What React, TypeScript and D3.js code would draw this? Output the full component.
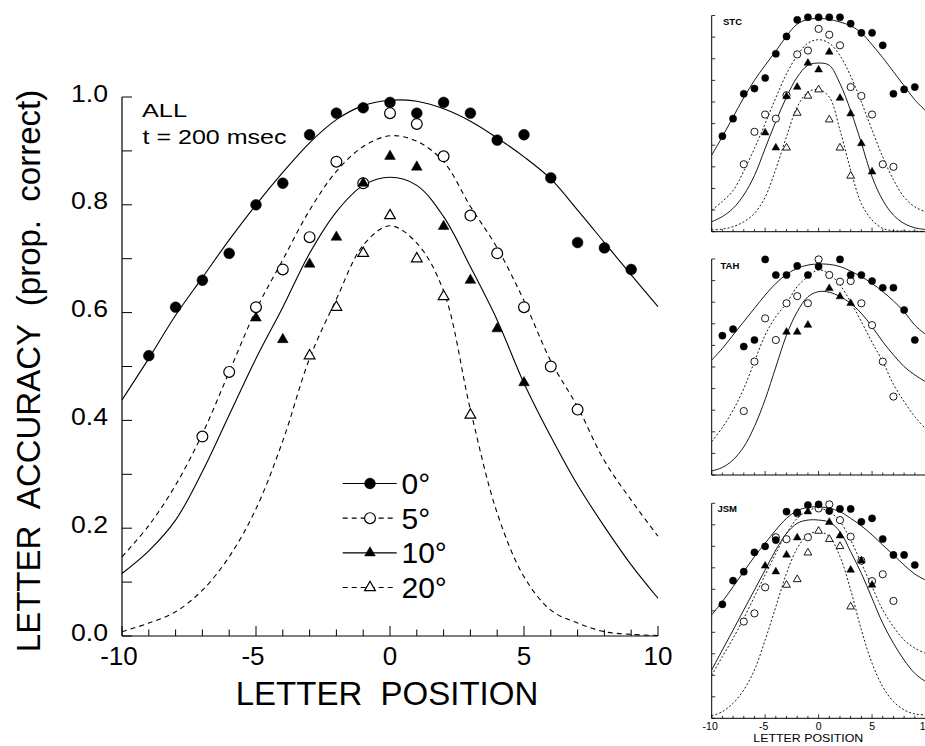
import React from 'react';
import * as d3 from 'd3';

const FONT = "'Liberation Sans', Arial, Helvetica, sans-serif";

const FIT_POS = [-10, -9, -8, -7, -6, -5, -4, -3, -2, -1, 0, 1, 2, 3, 4, 5, 6, 7, 8, 9, 10];

// ---------- ALL (main panel) ----------
const ALL_POS_0 = [-9, -8, -7, -6, -5, -4, -3, -2, -1, 0, 1, 2, 3, 4, 5, 6, 7, 8, 9];
const ALL_ACC_0 = [0.52, 0.61, 0.66, 0.71, 0.80, 0.84, 0.93, 0.97, 0.98, 0.99, 0.97, 0.99, 0.97, 0.92, 0.93, 0.85, 0.73, 0.72, 0.68];
const ALL_POS_5 = [-7, -6, -5, -4, -3, -2, -1, 0, 1, 2, 3, 4, 5, 6, 7];
const ALL_ACC_5 = [0.37, 0.49, 0.61, 0.68, 0.74, 0.88, 0.84, 0.97, 0.95, 0.89, 0.78, 0.71, 0.61, 0.50, 0.42];
const ALL_POS_10 = [-5, -4, -3, -2, -1, 0, 1, 2, 3, 4, 5];
const ALL_ACC_10 = [0.59, 0.55, 0.69, 0.74, 0.84, 0.89, 0.87, 0.76, 0.66, 0.57, 0.47];
const ALL_POS_20 = [-3, -2, -1, 0, 1, 2, 3];
const ALL_ACC_20 = [0.52, 0.61, 0.71, 0.78, 0.70, 0.63, 0.41];

const ALL_FIT_0 = [0.438, 0.515, 0.595, 0.665, 0.735, 0.80, 0.86, 0.915, 0.958, 0.984, 0.994, 0.992, 0.978, 0.955, 0.924, 0.889, 0.848, 0.79, 0.73, 0.67, 0.611];
const ALL_FIT_5 = [0.147, 0.205, 0.28, 0.375, 0.49, 0.605, 0.698, 0.79, 0.862, 0.908, 0.928, 0.918, 0.88, 0.797, 0.72, 0.622, 0.51, 0.425, 0.325, 0.252, 0.185];
const ALL_FIT_10 = [0.116, 0.158, 0.215, 0.305, 0.41, 0.515, 0.61, 0.71, 0.787, 0.836, 0.851, 0.836, 0.778, 0.685, 0.586, 0.469, 0.37, 0.28, 0.203, 0.132, 0.07];
const ALL_FIT_20 = [0.008, 0.024, 0.045, 0.085, 0.147, 0.236, 0.362, 0.515, 0.625, 0.725, 0.761, 0.729, 0.64, 0.42, 0.228, 0.11, 0.048, 0.024, 0.008, 0.003, 0.001];

// ---------- STC ----------
const STC_POS_0 = [-9, -8, -7, -6, -5, -4, -3, -2, -1, 0, 1, 2, 3, 4, 5, 6, 7, 8, 9];
const STC_ACC_0 = [0.442, 0.523, 0.638, 0.662, 0.711, 0.823, 0.903, 0.98, 0.992, 0.992, 0.992, 0.992, 0.962, 0.92, 0.92, 0.862, 0.638, 0.658, 0.669];
const STC_POS_5 = [-7, -6, -5, -4, -3, -2, -1, 0, 1, 2, 3, 4, 5, 6, 7];
const STC_ACC_5 = [0.312, 0.462, 0.542, 0.523, 0.631, 0.82, 0.838, 0.938, 0.911, 0.862, 0.669, 0.628, 0.542, 0.312, 0.30];
const STC_POS_10 = [-5, -4, -3, -2, -1, 0, 1, 2, 3, 4, 5];
const STC_ACC_10 = [0.458, 0.388, 0.626, 0.669, 0.78, 0.749, 0.831, 0.618, 0.546, 0.408, 0.277];
const STC_POS_20 = [-3, -2, -1, 0, 1, 2, 3];
const STC_ACC_20 = [0.388, 0.549, 0.628, 0.657, 0.518, 0.388, 0.258];

const STC_FIT_0 = [0.354, 0.44, 0.53, 0.62, 0.70, 0.77, 0.835, 0.905, 0.96, 0.982, 0.986, 0.982, 0.97, 0.952, 0.92, 0.865, 0.805, 0.74, 0.675, 0.61, 0.56];
const STC_FIT_5 = [0.10, 0.14, 0.19, 0.28, 0.385, 0.50, 0.62, 0.73, 0.815, 0.872, 0.888, 0.872, 0.815, 0.72, 0.60, 0.47, 0.346, 0.24, 0.16, 0.115, 0.092];
const STC_FIT_10 = [0.046, 0.07, 0.108, 0.17, 0.26, 0.385, 0.51, 0.623, 0.715, 0.77, 0.78, 0.77, 0.685, 0.56, 0.41, 0.254, 0.146, 0.077, 0.038, 0.018, 0.01];
const STC_FIT_20 = [0.008, 0.012, 0.023, 0.046, 0.085, 0.16, 0.29, 0.44, 0.577, 0.646, 0.657, 0.623, 0.47, 0.285, 0.13, 0.054, 0.015, 0.005, 0.003, 0.002, 0.001];

// ---------- TAH ----------
const TAH_POS_0 = [-9, -8, -7, -6, -5, -4, -3, -2, -1, 0, 2, 3, 4, 5, 6, 7, 8, 9];
const TAH_ACC_0 = [0.645, 0.675, 0.595, 0.625, 0.998, 0.926, 0.926, 0.968, 0.926, 0.965, 0.998, 0.926, 0.926, 0.898, 0.867, 0.867, 0.764, 0.625];
const TAH_POS_5 = [-7, -6, -5, -4, -3, -2, -1, 0, 1, 2, 3, 4, 5, 6, 7];
const TAH_ACC_5 = [0.296, 0.525, 0.725, 0.625, 0.795, 0.828, 0.795, 0.998, 0.926, 0.895, 0.898, 0.795, 0.694, 0.525, 0.363];
const TAH_POS_10 = [-3, -2, -1, 1, 2, 3];
const TAH_ACC_10 = [0.662, 0.662, 0.694, 0.864, 0.826, 0.795];

const TAH_FIT_0 = [0.532, 0.586, 0.648, 0.71, 0.772, 0.833, 0.887, 0.929, 0.957, 0.972, 0.977, 0.975, 0.965, 0.944, 0.918, 0.887, 0.849, 0.806, 0.756, 0.694, 0.651];
const TAH_FIT_5 = [0.154, 0.22, 0.30, 0.40, 0.525, 0.648, 0.733, 0.795, 0.872, 0.918, 0.95, 0.93, 0.88, 0.80, 0.71, 0.615, 0.525, 0.42, 0.34, 0.27, 0.215];
const TAH_FIT_10 = [0.019, 0.035, 0.07, 0.13, 0.225, 0.35, 0.50, 0.648, 0.756, 0.825, 0.849, 0.846, 0.826, 0.795, 0.748, 0.687, 0.617, 0.556, 0.502, 0.463, 0.432];

// ---------- JSM ----------
const JSM_POS_0 = [-9, -8, -7, -6, -5, -4, -3, -2, -1, 0, 1, 2, 3, 4, 5, 6, 7, 8, 9];
const JSM_ACC_0 = [0.53, 0.64, 0.682, 0.772, 0.80, 0.829, 0.961, 0.958, 0.992, 0.995, 0.964, 0.974, 0.974, 0.914, 0.93, 0.834, 0.76, 0.76, 0.713];
const JSM_POS_5 = [-7, -6, -5, -4, -3, -2, -1, 0, 1, 2, 3, 4, 5, 6, 7];
const JSM_ACC_5 = [0.45, 0.488, 0.609, 0.842, 0.833, 0.953, 0.842, 0.976, 0.995, 0.922, 0.845, 0.733, 0.638, 0.67, 0.546];
const JSM_POS_10 = [-5, -4, -3, -2, -1, 1, 2, 3, 4, 5];
const JSM_ACC_10 = [0.709, 0.682, 0.76, 0.84, 0.961, 0.912, 0.849, 0.69, 0.733, 0.62];
const JSM_POS_20 = [-3, -2, -1, 0, 1, 2, 3];
const JSM_ACC_20 = [0.62, 0.646, 0.77, 0.871, 0.833, 0.80, 0.519];

const JSM_FIT_0 = [0.481, 0.543, 0.612, 0.682, 0.752, 0.814, 0.876, 0.93, 0.966, 0.981, 0.984, 0.977, 0.961, 0.93, 0.895, 0.853, 0.806, 0.76, 0.713, 0.671, 0.643];
const JSM_FIT_5 = [0.20, 0.287, 0.372, 0.465, 0.566, 0.667, 0.767, 0.86, 0.93, 0.966, 0.977, 0.961, 0.915, 0.829, 0.721, 0.612, 0.504, 0.426, 0.364, 0.326, 0.302];
const JSM_FIT_10 = [0.225, 0.318, 0.41, 0.504, 0.597, 0.69, 0.783, 0.86, 0.907, 0.922, 0.922, 0.912, 0.868, 0.775, 0.674, 0.558, 0.442, 0.349, 0.271, 0.209, 0.171];
const JSM_FIT_20 = [0.011, 0.031, 0.07, 0.132, 0.225, 0.364, 0.519, 0.674, 0.791, 0.853, 0.868, 0.845, 0.752, 0.597, 0.411, 0.256, 0.147, 0.078, 0.039, 0.02, 0.016];

const LEGEND_LABELS = ['0°', '5°', '10°', '20°'];

type Kind = 'fc' | 'oc' | 'ft' | 'ot';
type Series = { pos: number[]; acc: number[]; kind: Kind };
type Fit = { acc: number[]; dashed: boolean };

function Marker({ kind, cx, cy, r, tri, sw }: { kind: Kind; cx: number; cy: number; r: number; tri: number; sw: number }) {
  if (kind === 'fc' || kind === 'oc') {
    return (
      <circle cx={cx} cy={cy} r={r} fill={kind === 'fc' ? '#000' : '#fff'} stroke="#000" strokeWidth={kind === 'fc' ? 0.5 : sw} />
    );
  }
  const p = d3.symbol().type(d3.symbolTriangle).size(tri)() as string;
  return (
    <path d={p} transform={`translate(${cx},${cy})`} fill={kind === 'ft' ? '#000' : '#fff'} stroke="#000" strokeWidth={kind === 'ft' ? 0.5 : sw} strokeLinejoin="miter" />
  );
}

type PanelProps = {
  x0: number; x1: number; yBottom: number; yTop: number;
  series: Series[]; fits: Fit[]; small: boolean;
};

function Panel({ x0, x1, yBottom, yTop, series, fits, small }: PanelProps) {
  const x = d3.scaleLinear().domain([-10, 10]).range([x0, x1]);
  const y = d3.scaleLinear().domain([0, 1]).range([yBottom, yTop]);
  const line = d3
    .line<number>()
    .x((_, i) => x(FIT_POS[i]))
    .y((d) => y(d))
    .curve(d3.curveCatmullRom.alpha(0.5));
  const r = small ? 3.6 : 5.4;
  const tri = small ? 26 : 50;
  const sw = small ? 0.9 : 1.2;
  const lw = small ? 0.9 : 1.1;
  const dash = small ? '2,2' : '5,4';
  const yTickLen = small ? 3.5 : 10;
  const xMajor = small ? 4 : 10;
  const xMinor = small ? 2.5 : 6.5;
  return (
    <g>
      {fits.map((f, i) => (
        <path key={'f' + i} d={line(f.acc) as string} fill="none" stroke="#000" strokeWidth={lw} strokeDasharray={f.dashed ? dash : undefined} />
      ))}
      <line x1={x0} x2={x0} y1={yTop} y2={yBottom} stroke="#000" strokeWidth={small ? 1 : 1.2} />
      <line x1={x0} x2={x1} y1={yBottom} y2={yBottom} stroke="#000" strokeWidth={small ? 1 : 1.2} />
      {y.ticks(10).map((t) => (
        <line key={'yt' + t} x1={x0} x2={x0 + yTickLen} y1={y(t)} y2={y(t)} stroke="#000" strokeWidth={small ? 0.8 : 1} />
      ))}
      {x.ticks(20).map((t) => (
        <line key={'xt' + t} x1={x(t)} x2={x(t)} y1={yBottom} y2={yBottom - (t % 5 === 0 ? xMajor : xMinor)} stroke="#000" strokeWidth={small ? 0.8 : 1} />
      ))}
      {series.map((s, si) => (
        <g key={'s' + si}>
          {s.pos.map((p, i) => (
            <Marker key={i} kind={s.kind} cx={x(p)} cy={y(s.acc[i])} r={r} tri={tri} sw={sw} />
          ))}
        </g>
      ))}
    </g>
  );
}

export default function App() {
  const W = 925;
  const H = 746;
  const mainX = d3.scaleLinear().domain([-10, 10]).range([122, 658]);
  const mainY = d3.scaleLinear().domain([0, 1]).range([636, 97]);
  const smallX = d3.scaleLinear().domain([-10, 10]).range([711.7, 925.5]);

  const legendY = d3.scaleLinear().domain([0, 3]).range([483.5, 587.5]);
  const legendKinds: Kind[] = ['fc', 'oc', 'ft', 'ot'];
  const legendDashed = [false, true, false, true];

  return (
    <svg width={W} height={H} viewBox={`0 0 ${W} ${H}`} style={{ position: 'absolute', left: 0, top: 0, background: '#fff' }} fontFamily={FONT}>
      <rect x={0} y={0} width={W} height={H} fill="#fff" />
      {/* ---------- main panel ---------- */}
      <Panel
        x0={122} x1={658} yBottom={636} yTop={97} small={false}
        fits={[
          { acc: ALL_FIT_0, dashed: false },
          { acc: ALL_FIT_5, dashed: true },
          { acc: ALL_FIT_10, dashed: false },
          { acc: ALL_FIT_20, dashed: true },
        ]}
        series={[
          { pos: ALL_POS_5, acc: ALL_ACC_5, kind: 'oc' },
          { pos: ALL_POS_0, acc: ALL_ACC_0, kind: 'fc' },
          { pos: ALL_POS_20, acc: ALL_ACC_20, kind: 'ot' },
          { pos: ALL_POS_10, acc: ALL_ACC_10, kind: 'ft' },
        ]}
      />
      {mainY.ticks(5).map((t) => (
        <text key={'yl' + t} x={108} y={mainY(t) + 4.5} textAnchor="end" fontSize={23} textLength={37} lengthAdjust="spacingAndGlyphs">
          {d3.format('.1f')(t)}
        </text>
      ))}
      {mainX.ticks(4).map((t) => (
        <text key={'xl' + t} x={mainX(t) - (t < 0 ? 3 : 0)} y={665} textAnchor="middle" fontSize={26}>
          {String(t)}
        </text>
      ))}
      <text x={387} y={705} textAnchor="middle" fontSize={33} style={{ whiteSpace: 'pre' }}>
        {'LETTER  POSITION'}
      </text>
      <text transform="translate(40,371) rotate(-90)" textAnchor="middle" fontSize={33} style={{ whiteSpace: 'pre' }}>
        {'LETTER  ACCURACY  (prop.  correct)'}
      </text>
      <text x={142} y={117} fontSize={19} textLength={45} lengthAdjust="spacingAndGlyphs">ALL</text>
      <text x={142.5} y={143.5} fontSize={20} textLength={144} lengthAdjust="spacingAndGlyphs" style={{ whiteSpace: 'pre' }}>
        {'t = 200 msec'}
      </text>
      {/* legend */}
      {LEGEND_LABELS.map((lab, i) => (
        <g key={'lg' + i}>
          <line x1={342.7} x2={396.7} y1={legendY(i)} y2={legendY(i)} stroke="#000" strokeWidth={1.1} strokeDasharray={legendDashed[i] ? '5,4' : undefined} />
          <Marker kind={legendKinds[i]} cx={370} cy={legendY(i)} r={5.4} tri={50} sw={1.2} />
          <text x={401.5} y={legendY(i) + 10.5} fontSize={30}>{lab}</text>
        </g>
      ))}

      {/* ---------- STC ---------- */}
      <Panel
        x0={711.7} x1={925.5} yBottom={231.7} yTop={15.5} small
        fits={[
          { acc: STC_FIT_0, dashed: false },
          { acc: STC_FIT_5, dashed: true },
          { acc: STC_FIT_10, dashed: false },
          { acc: STC_FIT_20, dashed: true },
        ]}
        series={[
          { pos: STC_POS_5, acc: STC_ACC_5, kind: 'oc' },
          { pos: STC_POS_0, acc: STC_ACC_0, kind: 'fc' },
          { pos: STC_POS_20, acc: STC_ACC_20, kind: 'ot' },
          { pos: STC_POS_10, acc: STC_ACC_10, kind: 'ft' },
        ]}
      />
      <text x={723} y={25} fontSize={9.5} fontWeight="bold">STC</text>

      {/* ---------- TAH ---------- */}
      <Panel
        x0={711.7} x1={925.5} yBottom={475} yTop={259} small
        fits={[
          { acc: TAH_FIT_0, dashed: false },
          { acc: TAH_FIT_5, dashed: true },
          { acc: TAH_FIT_10, dashed: false },
        ]}
        series={[
          { pos: TAH_POS_5, acc: TAH_ACC_5, kind: 'oc' },
          { pos: TAH_POS_0, acc: TAH_ACC_0, kind: 'fc' },
          { pos: TAH_POS_10, acc: TAH_ACC_10, kind: 'ft' },
        ]}
      />
      <text x={720.5} y={268.5} fontSize={9.5} fontWeight="bold">TAH</text>

      {/* ---------- JSM ---------- */}
      <Panel
        x0={711.7} x1={925.5} yBottom={718.3} yTop={503.3} small
        fits={[
          { acc: JSM_FIT_0, dashed: false },
          { acc: JSM_FIT_5, dashed: true },
          { acc: JSM_FIT_10, dashed: false },
          { acc: JSM_FIT_20, dashed: true },
        ]}
        series={[
          { pos: JSM_POS_5, acc: JSM_ACC_5, kind: 'oc' },
          { pos: JSM_POS_0, acc: JSM_ACC_0, kind: 'fc' },
          { pos: JSM_POS_20, acc: JSM_ACC_20, kind: 'ot' },
          { pos: JSM_POS_10, acc: JSM_ACC_10, kind: 'ft' },
        ]}
      />
      <text x={717.5} y={511.5} fontSize={9.5} fontWeight="bold">JSM</text>
      {smallX.ticks(4).map((t) => (
        <text key={'sx' + t} x={smallX(t) - (t < 0 ? 1.5 : 0)} y={730} textAnchor="middle" fontSize={10.5}>
          {String(t)}
        </text>
      ))}
      <text x={808.3} y={742} textAnchor="middle" fontSize={11} textLength={110} lengthAdjust="spacingAndGlyphs">
        LETTER POSITION
      </text>
    </svg>
  );
}
